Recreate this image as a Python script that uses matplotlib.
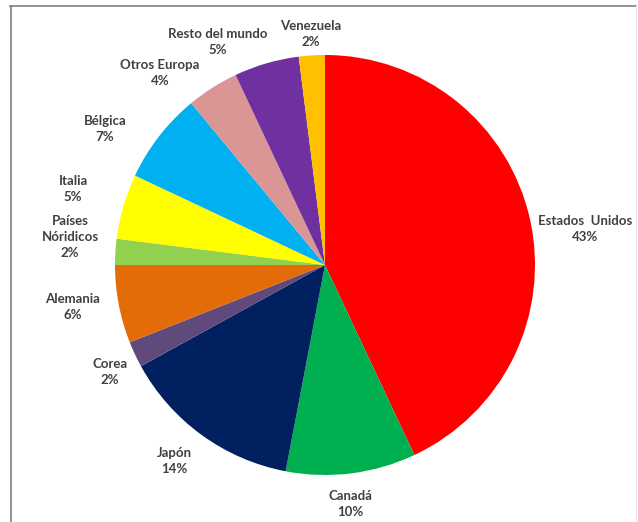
import matplotlib
matplotlib.use("Agg")
import matplotlib.pyplot as plt

# data
countries = ["Estados  Unidos", "Canadá", "Japón", "Corea", "Alemania",
             "Países\nNóridicos", "Italia", "Bélgica", "Otros Europa",
             "Resto del mundo", "Venezuela"]
shares = [43, 10, 14, 2, 6, 2, 5, 7, 4, 5, 2]
colors = ["#FF0000", "#00B050", "#002060", "#604A7B", "#E36C09",
          "#92D050", "#FFFF00", "#00B0F0", "#D99694", "#7030A0", "#FFC000"]

# label centres in pixels (x, y from top)
label_xy = [(585, 229), (350, 504), (174, 461), (110, 372), (73, 307),
            (70, 237), (73, 189), (105, 129), (160, 73), (218, 42), (311, 34)]

W, H = 638, 522
fig = plt.figure(figsize=(W / 100, H / 100), dpi=100)
ax = fig.add_axes([0, 0, 1, 1])

cx, cy, R = 325, H - 265, 210
ax.pie(shares, colors=colors, startangle=90, counterclock=False,
       center=(cx, cy), radius=R, frame=True,
       wedgeprops=dict(linewidth=0))
ax.set_xlim(0, W)
ax.set_ylim(0, H)
ax.axis("off")

for name, val, (x, y) in zip(countries, shares, label_xy):
    ax.text(x, H - y, f"{name}\n{val}%", ha="center", va="center",
            fontsize=9.5, fontweight="bold", family="Lato",
            color="#404040", linespacing=1.4)

# frame: top and left edges (the right one is faint)
ax.plot([10, 636], [H - 6, H - 6], color="#808080", lw=1.2, clip_on=False)
ax.plot([10.5, 10.5], [0, H - 6], color="#808080", lw=1.2, clip_on=False)
ax.plot([636, 636], [0, H - 6], color="#E8E8E8", lw=1, clip_on=False)

plt.savefig("out.png", dpi=100)
